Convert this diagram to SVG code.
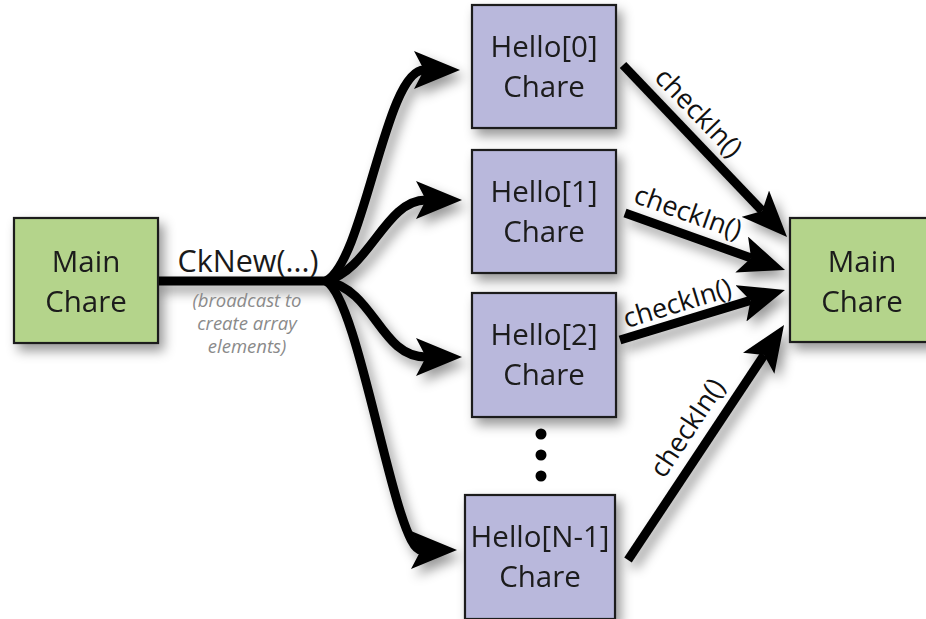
<svg xmlns="http://www.w3.org/2000/svg" width="926" height="619" viewBox="0 0 926 619">
<defs>
<filter id="sh" x="-20%" y="-20%" width="150%" height="150%">
<feDropShadow dx="5" dy="7" stdDeviation="6" flood-color="#000" flood-opacity="0.4"/>
</filter>
<marker id="ah" markerUnits="userSpaceOnUse" markerWidth="48" markerHeight="38" viewBox="0 0 48 38" refX="10" refY="19" orient="auto">
<path d="M0,0 L46,19 L0,38 L10,19 Z" fill="#000"/>
</marker>
<style>
.box{stroke:#1e1e1e;stroke-width:2.2}
.main{fill:#b4d48b}
.hello{fill:#b9b8dc}
.lbl{font-family:"Open Sans","Liberation Sans",sans-serif;font-size:29.5px;fill:#1a1a1a;text-anchor:middle}
.ck{font-family:"Open Sans","Liberation Sans",sans-serif;font-size:27px;fill:#111;text-anchor:middle}
.sub{font-family:"Open Sans","Liberation Sans",sans-serif;font-size:18.5px;font-style:italic;fill:#8a8a8a;text-anchor:middle}
.con{fill:none;stroke:#000;stroke-width:9}
</style>
</defs>
<rect width="926" height="619" fill="#fff"/>

<g id="connectors" filter="url(#sh)">
<path class="con" d="M156,281 L332,281"/>
<path class="con" d="M326,281 C365,260 385,70 424,70" marker-end="url(#ah)"/>
<path class="con" d="M326,281 C370,270 385,200 426,200" marker-end="url(#ah)"/>
<path class="con" d="M326,281 C375,290 380,357 426,357" marker-end="url(#ah)"/>
<path class="con" d="M326,281 C360,300 395,550 421,550" marker-end="url(#ah)"/>
<path class="con" d="M623,65 L762.2,210.9" marker-end="url(#ah)"/>
<path class="con" d="M625,213 L751.1,257.9" marker-end="url(#ah)"/>
<path class="con" d="M620,340 L750.5,300.4" marker-end="url(#ah)"/>
<path class="con" d="M628,560 L764.1,355" marker-end="url(#ah)"/>
</g>

<g id="main-left" filter="url(#sh)">
<rect class="box main" x="14" y="218" width="144" height="125"/>
<text class="lbl" x="86" y="272">Main</text>
<text class="lbl" x="86" y="312">Chare</text>
</g>

<g id="hello0" filter="url(#sh)">
<rect class="box hello" x="472" y="5" width="144" height="123"/>
<text class="lbl" x="544" y="57">Hello[0]</text>
<text class="lbl" x="544" y="97">Chare</text>
</g>

<g id="hello1" filter="url(#sh)">
<rect class="box hello" x="472" y="150" width="144" height="123"/>
<text class="lbl" x="544" y="202">Hello[1]</text>
<text class="lbl" x="544" y="242">Chare</text>
</g>

<g id="hello2" filter="url(#sh)">
<rect class="box hello" x="472" y="293" width="144" height="124"/>
<text class="lbl" x="544" y="345">Hello[2]</text>
<text class="lbl" x="544" y="385">Chare</text>
</g>

<g id="dots">
<circle cx="541" cy="434" r="5.5" fill="#000"/>
<circle cx="541" cy="455" r="5.5" fill="#000"/>
<circle cx="541" cy="476" r="5.5" fill="#000"/>
</g>

<g id="helloN" filter="url(#sh)">
<rect class="box hello" x="465" y="495" width="150" height="124"/>
<text class="lbl" x="540" y="547">Hello[N-1]</text>
<text class="lbl" x="540" y="587">Chare</text>
</g>

<g id="main-right" filter="url(#sh)">
<rect class="box main" x="790" y="218" width="144" height="124"/>
<text class="lbl" x="862" y="272">Main</text>
<text class="lbl" x="862" y="312">Chare</text>
</g>

<g id="labels">
<text class="lbl" x="248" y="272" style="font-size:30.5px">CkNew(...)</text>
<text class="sub" x="247" y="307">(broadcast to</text>
<text class="sub" x="247" y="330">create array</text>
<text class="sub" x="247" y="353">elements)</text>
<text class="ck" transform="translate(692,119) rotate(46)">checkIn()</text>
<text class="ck" transform="translate(685,221) rotate(19.6)">checkIn()</text>
<text class="ck" transform="translate(680,312) rotate(-17)">checkIn()</text>
<text class="ck" transform="translate(695,433) rotate(-56.4)">checkIn()</text>
</g>
</svg>
